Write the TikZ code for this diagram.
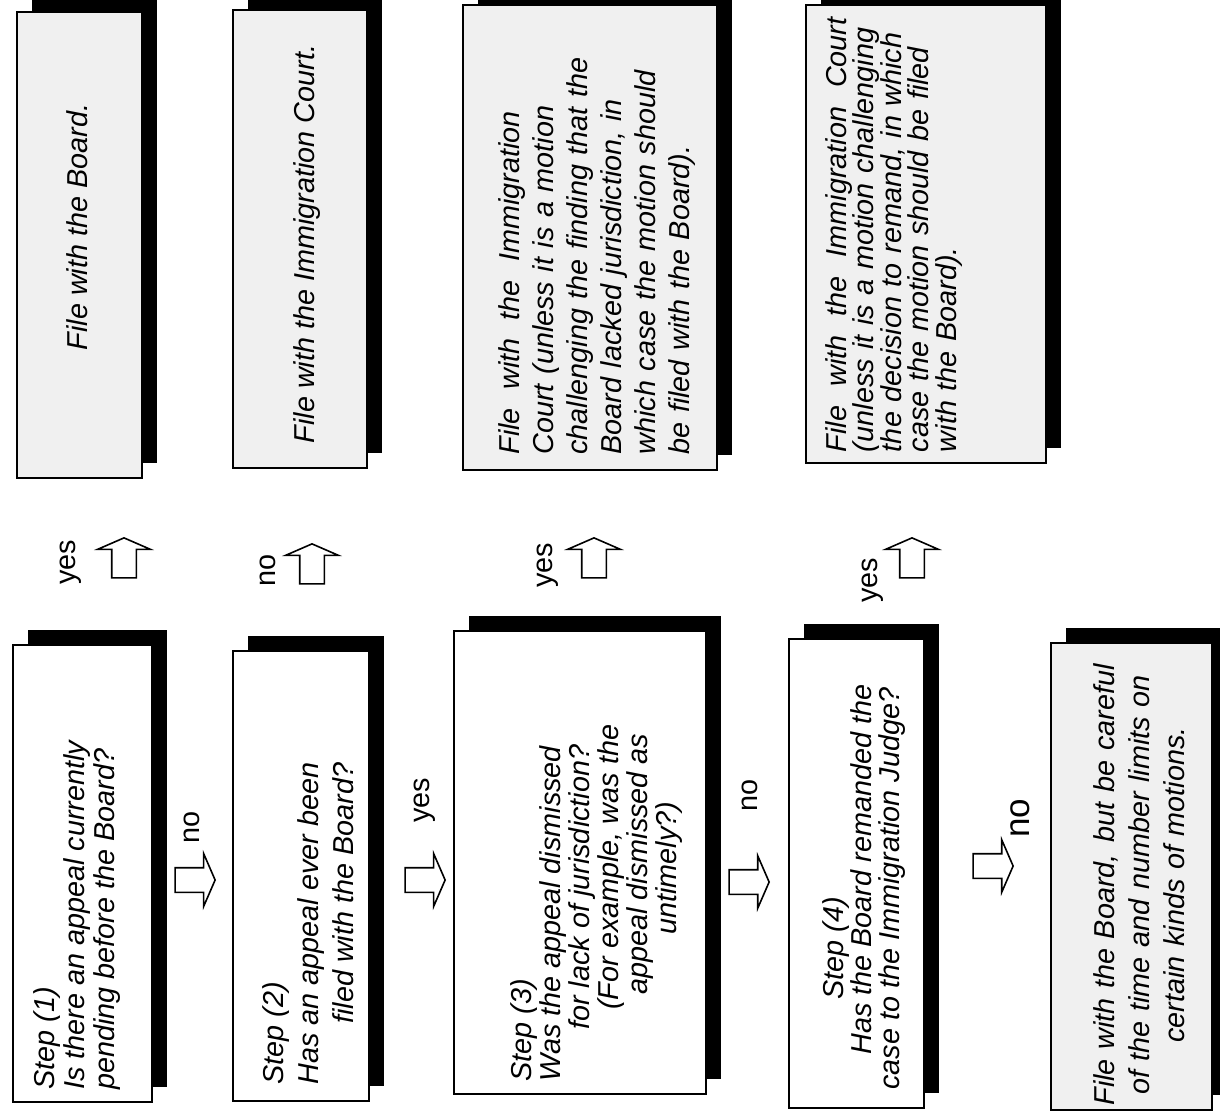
\documentclass[tikz,border=0pt]{standalone}
\usepackage{fontspec}
\setmainfont{Liberation Sans}
\usetikzlibrary{shapes.arrows,shadows}
\definecolor{PanelGray}{HTML}{F0F0F0}
\tikzset{
  stepbox/.style={draw=black,line width=1pt,fill=white,inner sep=0pt,
    drop shadow={shadow xshift=7.5pt,shadow yshift=7.5pt,fill=black,opacity=1}},
  filebox/.style={stepbox,fill=PanelGray},
  boxtext/.style={rotate=90,inner sep=0pt,font=\fontsize{14.4}{#1}\selectfont\itshape},
  boxtext/.default=15,
  blockarrow/.style={single arrow,draw=black,line width=.8pt,fill=white,
    inner xsep=0pt,inner ysep=5.75pt,minimum height=20pt,minimum width=25.5pt,
    single arrow head extend=7pt,single arrow tip angle=133,
    single arrow head indent=0pt,anchor=tip},
  answer/.style={rotate=90,inner sep=0pt,font=\fontsize{14.4}{16}\selectfont}
}
\begin{document}
\begin{tikzpicture}[x=.5pt,y=-.5pt]
\useasboundingbox (0,0) rectangle (1220,1114);
% question boxes (bottom row)
\node[stepbox,minimum width=69.5pt,minimum height=228.5pt] (q1) at (82.5,873.5) {};
\node[stepbox,minimum width=68pt,minimum height=225pt] (q2) at (301,876) {};
\node[stepbox,minimum width=126pt,minimum height=231.5pt] (q3) at (580,862.5) {};
\node[stepbox,minimum width=67.5pt,minimum height=234.5pt] (q4) at (856.5,873.5) {};
\node[filebox,minimum width=80.5pt,minimum height=233.5pt] (f5) at (1131.5,876.5) {};
% answer boxes (top row)
\node[filebox,minimum width=62.5pt,minimum height=233pt] (f1) at (79.5,245) {};
\node[filebox,minimum width=67pt,minimum height=229pt] (f2) at (300,239) {};
\node[filebox,minimum width=127pt,minimum height=232.5pt] (f3) at (590,237.5) {};
\node[filebox,minimum width=120pt,minimum height=229pt] (f4) at (926,234) {};

% texts
\node[boxtext,anchor=north west,align=left] (q1t) at (33,1090)
  {Step (1)\\Is there an appeal currently\\pending before the Board?};
\node[boxtext=17.5,anchor=north west,align=left] (q2t) at (262,1085)
  {Step (2)\\Has an appeal ever been\\\hspace*{30.5pt}filed with the Board?};
\node[boxtext=14.5,anchor=north west,align=left] (q3t) at (510,1082)
  {Step (3)\\Was the appeal dismissed\\\hspace*{26pt}for lack of jurisdiction?\\
   \hspace*{36pt}(For example, was the\\\hspace*{43.5pt}appeal dismissed as\\
   \hspace*{73.5pt}untimely?)};
\node[boxtext=14,anchor=north west,align=left] (q4t) at (822,1095)
  {\hspace*{47.5pt}Step (4)\\\hspace*{20pt}Has the Board remanded the\\
   \hspace*{2.5pt}case to the Immigration Judge?};
\node[boxtext=17.5,anchor=north,align=center,text width=225pt] (f5t) at (1093,885)
  {File with the Board,\hspace{6pt}but be careful\\of the time and number limits on\\certain kinds of motions.};
\node[boxtext] (f1t) at (77,227) {File with the Board.};
\node[boxtext] (f2t) at (307,244) {File with the Immigration Court.};
\node[boxtext=17,anchor=north,align=left,text width=199pt] (f3t) at (498,255.5)
  {File\hspace{9.2pt}with\hspace{9.2pt}the\hspace{9.2pt}Immigration\\Court (unless it is a motion\\
   challenging the finding that the\\Board lacked jurisdiction, in\\
   which case the motion should\\be filed with the Board).};
\node[boxtext=13.75,anchor=north,align=left,text width=222pt] (f4t) at (825,230)
  {File\hspace{9.5pt}with\hspace{9.5pt}the\hspace{9.5pt}Immigration\hspace{9.5pt}Court\\
   (unless it is a motion challenging\\the decision to remand, in which\\
   case the motion should be filed\\with the Board).};

% block arrows
\node[blockarrow,rotate=90] (up1) at (124,537) {};
\node[blockarrow,rotate=90] (up2) at (312,543) {};
\node[blockarrow,rotate=90] (up3) at (594,537) {};
\node[blockarrow,rotate=90] (up4) at (912,537) {};
\node[blockarrow] (go1) at (216,880) {};
\node[blockarrow] (go2) at (446,880) {};
\node[blockarrow] (go3) at (770,882) {};
\node[blockarrow] (go4) at (1014,866) {};

% labels
\node[answer] (up1l) at (71,562) {yes};
\node[answer] (up2l) at (268,570) {no};
\node[answer] (up3l) at (548,565) {yes};
\node[answer] (up4l) at (873,580) {yes};
\node[answer] (go1l) at (192,827) {no};
\node[answer] (go2l) at (425,800) {yes};
\node[answer] (go3l) at (750,795) {no};
\node[answer,font=\fontsize{17.5}{19}\selectfont] (go4l) at (1020,818) {no};
\end{tikzpicture}
\end{document}
